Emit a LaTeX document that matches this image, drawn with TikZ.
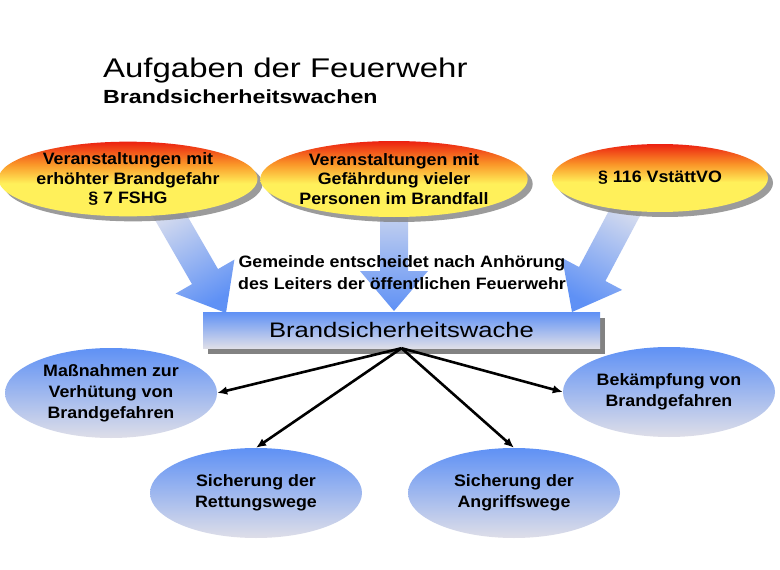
\documentclass[tikz,border=0pt]{standalone}
\usepackage{fontspec}
\setmainfont[FakeStretch=1.08]{Liberation Sans}
\newfontfamily\titlefont[FakeStretch=1.22]{Liberation Sans}
\usetikzlibrary{shapes.geometric,shadows,arrows.meta}
\definecolor{fr}{RGB}{235,25,15}
\definecolor{fo}{RGB}{250,150,40}
\definecolor{fy}{RGB}{255,240,90}
\definecolor{bblue}{RGB}{95,145,245}
\definecolor{bgrey}{RGB}{222,222,232}
\definecolor{alight}{RGB}{222,225,238}
\definecolor{shgrey}{RGB}{130,130,130}
\pgfdeclareverticalshading{fire}{100bp}{color(0bp)=(fy); color(47bp)=(fy); color(60bp)=(fo); color(76bp)=(fr); color(100bp)=(fr)}
\tikzset{
  topell/.style={ellipse, shading=fire, drop shadow={shadow xshift=5pt, shadow yshift=-5pt, fill=shgrey, opacity=0.8}, inner sep=0pt, align=center, font=\bfseries\fontsize{16.5}{19.5}\selectfont},
  botell/.style={ellipse, top color=bblue, bottom color=bgrey, inner sep=0pt, align=center, minimum width=212pt, minimum height=90pt, font=\bfseries\fontsize{16.5}{21}\selectfont},
  bigarrow/.style={top color=alight, bottom color=bblue, draw=none},
  conn/.style={line width=2.6pt, -{Latex[length=10pt,width=8.5pt]}},
}
\begin{document}
\begin{tikzpicture}[x=1pt,y=-1pt]
\useasboundingbox (0,0) rectangle (780,570);
\fill[white] (0,0) rectangle (780,570);
% titles
\node[anchor=base west, inner sep=0pt, font=\titlefont\fontsize{27}{30}\selectfont] (title) at (103,77) {Aufgaben der Feuerwehr};
\node[anchor=base west, inner sep=0pt, font=\titlefont\bfseries\fontsize{19}{22}\selectfont] (subtitle) at (103,103) {Brandsicherheitswachen};
% big arrows
\path[bigarrow, shading angle=30] (174,192.9) -- (218,269.1) -- (234.4,259.6) -- (226,313) -- (175.6,293.6) -- (192,284.1) -- (148,207.9) -- cycle;
\path[bigarrow] (380,190) -- (380,271) -- (360,271) -- (394,311) -- (428,271) -- (408,271) -- (408,190) -- cycle;
\path[bigarrow, shading angle=-28] (619.8,190.2) -- (579,267) -- (562.2,258.1) -- (572,312) -- (622.2,289.9) -- (605.4,281) -- (646.2,204.2) -- cycle;
% top ellipses
\node[topell, minimum width=248pt, minimum height=72pt] (t1) at (128,179) {Veranstaltungen mit\\erhöhter Brandgefahr\\§ 7 FSHG};
\node[topell, minimum width=246pt, minimum height=76pt] (t2) at (394,179) {Veranstaltungen mit\\Gefährdung vieler\\Personen im Brandfall};
\node[topell, minimum width=216pt, minimum height=68pt] (t3) at (660,178) {§ 116 VstättVO};
% decision text
\node[align=center, inner sep=0pt, font=\bfseries\fontsize{16.5}{22}\selectfont] (decide) at (402,273) {Gemeinde entscheidet nach Anhörung\\des Leiters der öffentlichen Feuerwehr};
% central box
\node[rectangle, top color=bblue, bottom color=bgrey, minimum width=397pt, minimum height=36pt, inner sep=0pt, drop shadow={shadow xshift=5pt, shadow yshift=-6pt, fill=shgrey, opacity=1}, font=\titlefont\fontsize{21}{24}\selectfont] (wache) at (401.5,330) {Brandsicherheitswache};
% bottom ellipses
\node[botell] (b1) at (111,393) {Maßnahmen zur\\Verhütung von\\Brandgefahren};
\node[botell] (b2) at (669,392) {Bekämpfung von\\Brandgefahren};
\node[botell] (b3) at (256,493) {Sicherung der\\Rettungswege};
\node[botell] (b4) at (514,493) {Sicherung der\\Angriffswege};
% connectors
\draw[conn] (wache.south) -- (b1.east);
\draw[conn] (wache.south) -- (b2.west);
\draw[conn] (wache.south) -- (b3.north);
\draw[conn] (wache.south) -- (b4.north);
\end{tikzpicture}
\end{document}
